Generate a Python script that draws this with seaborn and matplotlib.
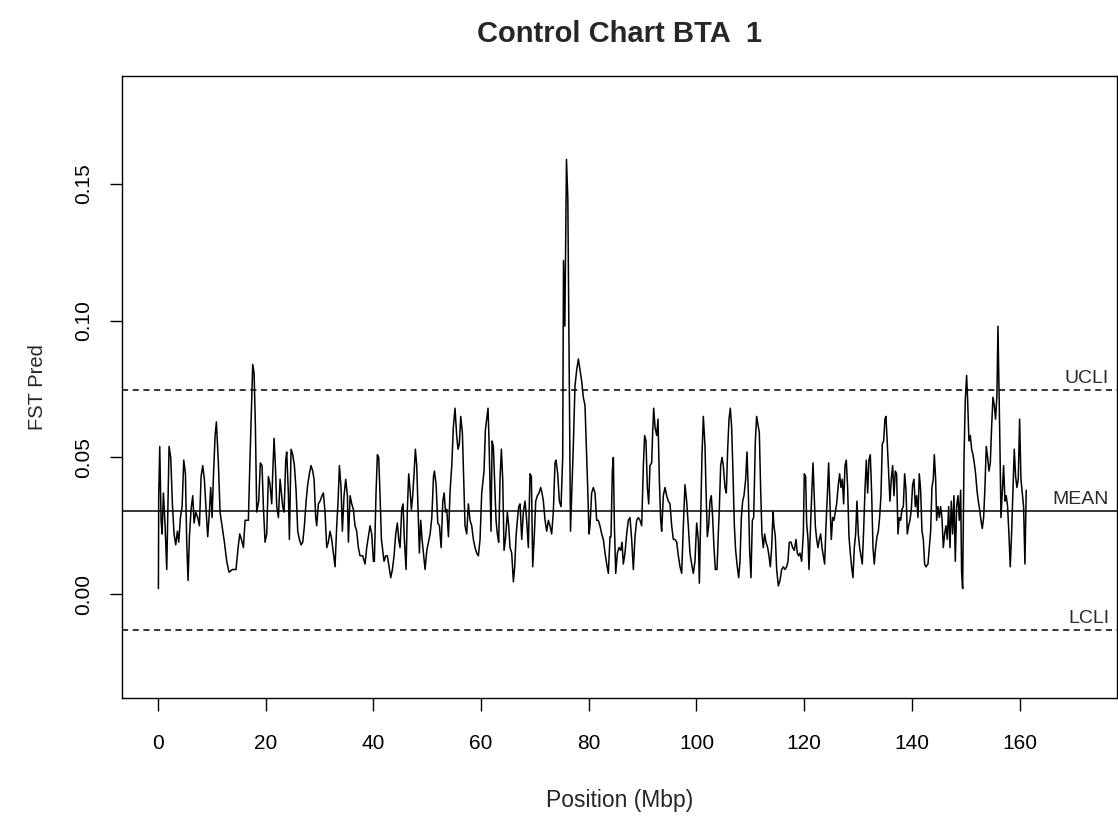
import matplotlib
matplotlib.use("Agg")
import matplotlib.pyplot as plt
import matplotlib.transforms as mtransforms
import seaborn as sns
import pandas as pd

# Predicted FST along chromosome BTA 1 (position in Mbp)
position_mbp = [
    0.06, 0.12, 0.31, 0.56, 0.74, 0.99, 1.30, 1.61, 2.04, 2.35,
    2.66, 2.97, 3.28, 3.59, 3.84, 4.15, 4.46, 4.77, 5.08, 5.32,
    5.57, 5.82, 6.13, 6.44, 6.69, 7.00, 7.37, 7.68, 7.99, 8.29,
    8.60, 8.91, 9.22, 9.53, 9.78, 10.03, 10.28, 10.59, 10.83, 11.20,
    11.51, 11.88, 12.32, 12.75, 13.18, 13.80, 14.48, 14.86, 15.17, 15.48,
    15.85, 16.16, 16.77, 17.08, 17.39, 17.58, 17.83, 18.07, 18.32, 18.69,
    19.00, 19.31, 19.56, 19.87, 20.18, 20.49, 20.80, 21.11, 21.29, 21.54,
    21.79, 22.04, 22.35, 22.66, 22.90, 23.15, 23.40, 23.71, 23.89, 24.20,
    24.39, 24.70, 25.01, 25.32, 25.63, 25.94, 26.25, 26.56, 26.87, 27.18,
    27.49, 27.79, 28.10, 28.41, 28.72, 28.97, 29.28, 29.46, 29.77, 30.08,
    30.45, 30.70, 31.01, 31.32, 31.63, 31.94, 32.25, 32.56, 32.87, 33.18,
    33.43, 33.68, 33.98, 34.23, 34.54, 34.85, 35.16, 35.35, 35.66, 35.97,
    36.27, 36.58, 36.89, 37.20, 37.51, 38.01, 38.44, 38.75, 39.06, 39.37,
    39.68, 39.99, 40.17, 40.48, 40.73, 40.98, 41.23, 41.48, 41.72, 41.97,
    42.28, 42.59, 42.90, 43.21, 43.52, 43.83, 44.14, 44.44, 44.69, 44.94,
    45.25, 45.50, 45.74, 46.06, 46.30, 46.55, 46.80, 47.05, 47.29, 47.54,
    47.79, 48.04, 48.29, 48.53, 48.78, 49.03, 49.28, 49.59, 49.91, 50.22,
    50.53, 50.84, 51.15, 51.33, 51.64, 51.95, 52.26, 52.57, 52.88, 53.13,
    53.38, 53.62, 53.93, 54.24, 54.55, 54.84, 55.15, 55.46, 55.71, 55.96,
    56.21, 56.52, 56.77, 57.01, 57.32, 57.63, 57.94, 58.25, 58.56, 58.87,
    59.18, 59.49, 59.80, 60.11, 60.54, 60.79, 61.04, 61.28, 61.47, 61.65,
    61.84, 62.03, 62.27, 62.52, 62.77, 63.01, 63.26, 63.51, 63.76, 64.01,
    64.26, 64.56, 64.87, 65.12, 65.37, 65.68, 65.99, 66.24, 66.48, 66.73,
    66.98, 67.23, 67.54, 67.84, 68.15, 68.46, 68.77, 69.08, 69.33, 69.58,
    69.89, 70.14, 70.44, 70.75, 71.06, 71.31, 71.56, 71.87, 72.18, 72.49,
    72.79, 73.10, 73.41, 73.72, 73.91, 74.22, 74.53, 74.84, 75.15, 75.30,
    75.55, 75.85, 76.10, 76.60, 77.12, 77.43, 77.75, 78.06, 78.37, 78.67,
    78.98, 79.29, 79.60, 79.79, 80.04, 80.22, 80.53, 80.84, 81.15, 81.46,
    81.76, 82.07, 82.39, 82.70, 83.01, 83.32, 83.63, 83.94, 84.12, 84.37,
    84.56, 84.75, 85.00, 85.30, 85.61, 85.92, 86.17, 86.41, 86.72, 87.03,
    87.34, 87.65, 87.96, 88.27, 88.58, 88.89, 89.19, 89.50, 89.82, 90.13,
    90.37, 90.62, 90.87, 91.12, 91.36, 91.67, 91.86, 92.05, 92.30, 92.61,
    92.85, 93.10, 93.35, 93.53, 93.84, 94.15, 94.46, 94.77, 95.08, 95.39,
    95.70, 96.01, 96.32, 96.63, 96.94, 97.25, 97.56, 97.86, 98.17, 98.48,
    98.79, 99.10, 99.41, 99.72, 100.03, 100.34, 100.53, 100.77, 101.02, 101.27,
    101.58, 101.77, 102.01, 102.26, 102.51, 102.75, 103.00, 103.25, 103.50, 103.81,
    104.05, 104.24, 104.49, 104.74, 104.98, 105.29, 105.54, 105.79, 106.04, 106.28,
    106.53, 106.78, 107.03, 107.27, 107.52, 107.83, 108.08, 108.33, 108.57, 108.82,
    109.13, 109.38, 109.63, 109.87, 110.12, 110.37, 110.62, 110.93, 111.17, 111.42,
    111.67, 111.92, 112.16, 112.41, 112.66, 112.91, 113.22, 113.46, 113.71, 113.96,
    114.21, 114.39, 114.64, 114.89, 115.20, 115.51, 115.82, 116.12, 116.43, 116.74,
    116.99, 117.24, 117.55, 117.86, 118.17, 118.48, 118.72, 118.97, 119.22, 119.53,
    119.84, 120.02, 120.27, 120.46, 120.71, 120.89, 121.14, 121.39, 121.64, 122.07,
    122.32, 122.56, 122.81, 123.06, 123.31, 123.55, 123.80, 124.05, 124.30, 124.54,
    124.79, 125.04, 125.29, 125.53, 125.78, 126.03, 126.34, 126.59, 126.83, 127.08,
    127.33, 127.58, 127.82, 128.07, 128.32, 128.57, 128.81, 129.06, 129.31, 129.56,
    129.80, 130.05, 130.30, 130.55, 130.79, 131.04, 131.29, 131.54, 131.79, 132.03,
    132.28, 132.53, 132.78, 133.02, 133.27, 133.52, 133.77, 134.01, 134.26, 134.51,
    134.76, 135.00, 135.19, 135.44, 135.69, 135.93, 136.18, 136.43, 136.68, 136.92,
    137.17, 137.42, 137.67, 137.92, 138.16, 138.41, 138.66, 138.91, 139.15, 139.40,
    139.65, 139.90, 140.14, 140.39, 140.64, 140.89, 141.13, 141.38, 141.63, 141.88,
    142.13, 142.37, 142.62, 142.99, 143.24, 143.49, 143.73, 143.98, 144.17, 144.42,
    144.60, 144.85, 145.10, 145.34, 145.59, 145.84, 146.09, 146.33, 146.58, 146.83,
    147.08, 147.32, 147.57, 147.82, 148.07, 148.31, 148.56, 148.81, 149.06, 149.24,
    149.43, 149.68, 149.92, 150.17, 150.36, 150.60, 150.85, 151.10, 151.35, 151.59,
    151.84, 152.09, 152.34, 152.58, 152.83, 153.08, 153.33, 153.57, 153.82, 154.07,
    154.32, 154.57, 154.81, 155.06, 155.31, 155.55, 155.80, 155.99, 156.17, 156.36,
    156.55, 156.79, 157.04, 157.29, 157.53, 157.78, 158.03, 158.27, 158.52, 158.77,
    159.02, 159.27, 159.51, 159.76, 160.01, 160.26, 160.50, 160.75, 161.00, 161.24,
]

fst_pred = [
    0.002, 0.036, 0.054, 0.027, 0.022, 0.037, 0.025, 0.009, 0.054, 0.050,
    0.033, 0.022, 0.018, 0.023, 0.019, 0.028, 0.032, 0.049, 0.044, 0.019,
    0.005, 0.021, 0.031, 0.036, 0.026, 0.030, 0.028, 0.025, 0.043, 0.047,
    0.042, 0.031, 0.021, 0.030, 0.039, 0.028, 0.043, 0.058, 0.063, 0.048,
    0.030, 0.025, 0.019, 0.012, 0.008, 0.009, 0.009, 0.017, 0.022, 0.020,
    0.017, 0.027, 0.027, 0.050, 0.071, 0.084, 0.081, 0.062, 0.030, 0.034,
    0.048, 0.047, 0.032, 0.019, 0.022, 0.043, 0.040, 0.033, 0.044, 0.057,
    0.047, 0.032, 0.028, 0.042, 0.037, 0.032, 0.030, 0.049, 0.052, 0.037,
    0.020, 0.053, 0.051, 0.047, 0.038, 0.023, 0.020, 0.018, 0.019, 0.025,
    0.034, 0.040, 0.044, 0.047, 0.045, 0.042, 0.028, 0.025, 0.033, 0.034,
    0.036, 0.037, 0.030, 0.017, 0.019, 0.023, 0.020, 0.015, 0.010, 0.025,
    0.034, 0.047, 0.039, 0.023, 0.036, 0.042, 0.036, 0.019, 0.036, 0.033,
    0.031, 0.025, 0.023, 0.017, 0.014, 0.014, 0.011, 0.017, 0.021, 0.025,
    0.022, 0.012, 0.012, 0.037, 0.051, 0.050, 0.036, 0.020, 0.016, 0.012,
    0.014, 0.014, 0.010, 0.006, 0.009, 0.014, 0.022, 0.026, 0.020, 0.017,
    0.031, 0.033, 0.020, 0.009, 0.031, 0.044, 0.038, 0.031, 0.036, 0.044,
    0.053, 0.047, 0.031, 0.015, 0.027, 0.020, 0.015, 0.009, 0.016, 0.019,
    0.022, 0.028, 0.043, 0.045, 0.040, 0.026, 0.025, 0.017, 0.034, 0.037,
    0.030, 0.031, 0.021, 0.038, 0.047, 0.061, 0.068, 0.058, 0.053, 0.055,
    0.065, 0.059, 0.042, 0.025, 0.022, 0.033, 0.027, 0.025, 0.020, 0.017,
    0.015, 0.014, 0.020, 0.037, 0.045, 0.060, 0.064, 0.068, 0.056, 0.039,
    0.023, 0.056, 0.054, 0.040, 0.027, 0.022, 0.019, 0.042, 0.053, 0.042,
    0.016, 0.021, 0.030, 0.025, 0.017, 0.015, 0.0045, 0.010, 0.021, 0.027,
    0.032, 0.033, 0.020, 0.030, 0.034, 0.027, 0.017, 0.044, 0.043, 0.010,
    0.022, 0.034, 0.036, 0.037, 0.039, 0.037, 0.034, 0.027, 0.023, 0.027,
    0.025, 0.022, 0.030, 0.048, 0.049, 0.044, 0.034, 0.032, 0.050, 0.122,
    0.098, 0.159, 0.145, 0.023, 0.054, 0.076, 0.082, 0.086, 0.082, 0.078,
    0.072, 0.069, 0.051, 0.039, 0.022, 0.025, 0.037, 0.039, 0.037, 0.027,
    0.027, 0.025, 0.022, 0.020, 0.015, 0.011, 0.0076, 0.021, 0.021, 0.045,
    0.050, 0.025, 0.0076, 0.015, 0.017, 0.016, 0.019, 0.011, 0.015, 0.022,
    0.027, 0.028, 0.020, 0.009, 0.021, 0.027, 0.028, 0.027, 0.025, 0.047,
    0.058, 0.056, 0.039, 0.033, 0.047, 0.048, 0.059, 0.068, 0.061, 0.058,
    0.064, 0.042, 0.027, 0.023, 0.036, 0.039, 0.036, 0.034, 0.033, 0.025,
    0.020, 0.020, 0.019, 0.014, 0.010, 0.0076, 0.025, 0.040, 0.034, 0.025,
    0.015, 0.011, 0.0076, 0.012, 0.026, 0.020, 0.004, 0.028, 0.051, 0.065,
    0.054, 0.038, 0.021, 0.025, 0.034, 0.036, 0.028, 0.017, 0.009, 0.009,
    0.022, 0.031, 0.047, 0.050, 0.047, 0.039, 0.037, 0.053, 0.064, 0.068,
    0.061, 0.044, 0.025, 0.016, 0.011, 0.006, 0.012, 0.028, 0.034, 0.036,
    0.042, 0.052, 0.037, 0.016, 0.006, 0.027, 0.028, 0.056, 0.065, 0.062,
    0.059, 0.038, 0.022, 0.017, 0.022, 0.019, 0.017, 0.014, 0.010, 0.017,
    0.030, 0.025, 0.021, 0.009, 0.003, 0.005, 0.009, 0.010, 0.009, 0.010,
    0.012, 0.019, 0.019, 0.017, 0.016, 0.020, 0.015, 0.014, 0.015, 0.012,
    0.022, 0.044, 0.043, 0.026, 0.020, 0.009, 0.023, 0.036, 0.048, 0.025,
    0.020, 0.017, 0.020, 0.022, 0.017, 0.014, 0.011, 0.025, 0.036, 0.048,
    0.033, 0.020, 0.028, 0.027, 0.030, 0.033, 0.040, 0.044, 0.039, 0.042,
    0.033, 0.047, 0.049, 0.039, 0.021, 0.015, 0.010, 0.006, 0.017, 0.022,
    0.034, 0.022, 0.017, 0.014, 0.011, 0.023, 0.038, 0.049, 0.037, 0.049,
    0.051, 0.037, 0.017, 0.011, 0.017, 0.021, 0.023, 0.028, 0.036, 0.055,
    0.056, 0.064, 0.065, 0.055, 0.044, 0.034, 0.042, 0.047, 0.036, 0.045,
    0.044, 0.022, 0.028, 0.027, 0.031, 0.032, 0.044, 0.038, 0.022, 0.025,
    0.027, 0.031, 0.040, 0.042, 0.032, 0.036, 0.028, 0.044, 0.038, 0.023,
    0.020, 0.011, 0.010, 0.011, 0.017, 0.023, 0.039, 0.042, 0.051, 0.042,
    0.027, 0.032, 0.028, 0.032, 0.028, 0.017, 0.022, 0.025, 0.020, 0.032,
    0.017, 0.034, 0.022, 0.036, 0.012, 0.032, 0.036, 0.027, 0.038, 0.008,
    0.002, 0.049, 0.071, 0.080, 0.071, 0.056, 0.058, 0.053, 0.051, 0.048,
    0.044, 0.038, 0.034, 0.031, 0.027, 0.024, 0.028, 0.039, 0.054, 0.050,
    0.045, 0.048, 0.061, 0.072, 0.069, 0.064, 0.073, 0.098, 0.077, 0.054,
    0.028, 0.037, 0.047, 0.034, 0.036, 0.032, 0.022, 0.010, 0.022, 0.037,
    0.053, 0.043, 0.039, 0.042, 0.064, 0.042, 0.037, 0.032, 0.011, 0.038,
]

# Control limits
control_levels = [0.0746, 0.0304, -0.0132]
control_labels = ["UCLI", "MEAN", "LCLI"]
control_styles = ["--", "-", "--"]

x_ticks = [0, 20, 40, 60, 80, 100, 120, 140, 160]
y_ticks = [0.00, 0.05, 0.10, 0.15]
y_tick_labels = ["0.00", "0.05", "0.10", "0.15"]

df = pd.DataFrame({"position": position_mbp, "fst": fst_pred})

sns.set_theme(style="ticks")
plt.rcParams["font.family"] = ["Liberation Sans", "DejaVu Sans"]

fig = plt.figure(figsize=(11.18, 8.17), dpi=100)
ax = fig.add_axes([122 / 1118, 1 - 698 / 817, 995 / 1118, 622 / 817])

sns.lineplot(data=df, x="position", y="fst", ax=ax, color="black",
             linewidth=1.1, estimator=None, sort=False)

trans = mtransforms.blended_transform_factory(ax.transAxes, ax.transData)
for level, label, style in zip(control_levels, control_labels, control_styles):
    ax.axhline(level, color="black", linestyle=style, linewidth=1.1,
               dashes=(4, 3) if style == "--" else (None, None))
    ax.text(0.992, level + 0.0012, label, transform=trans, ha="right",
            va="bottom", fontsize=14, color="#2a2a2a")

ax.set_xlim(-6.7, 178.1)
ax.set_ylim(-0.038, 0.1895)
ax.set_xticks(x_ticks)
ax.set_yticks(y_ticks)
ax.set_yticklabels(y_tick_labels, rotation=90, va="center")
ax.tick_params(axis="both", direction="out", length=9, width=1.0,
               colors="black", labelsize=15)
ax.tick_params(axis="x", pad=17)
ax.tick_params(axis="y", pad=12)

for side in ["top", "right", "left", "bottom"]:
    ax.spines[side].set_visible(True)
    ax.spines[side].set_color("black")
    ax.spines[side].set_linewidth(1.0)

ax.set_xlabel("Position (Mbp)", fontsize=16.5)
ax.set_ylabel("FST Pred", fontsize=14.5)
ax.xaxis.set_label_coords(0.5, -0.164)
ax.xaxis.label.set_va("center")
ax.yaxis.set_label_coords(-0.085, 0.5)
ax.yaxis.label.set_va("center")

ax.set_title("Control Chart BTA  1", fontsize=21, fontweight="bold",
             y=1.067, va="center", pad=0)

fig.savefig("out.png", dpi=100)
